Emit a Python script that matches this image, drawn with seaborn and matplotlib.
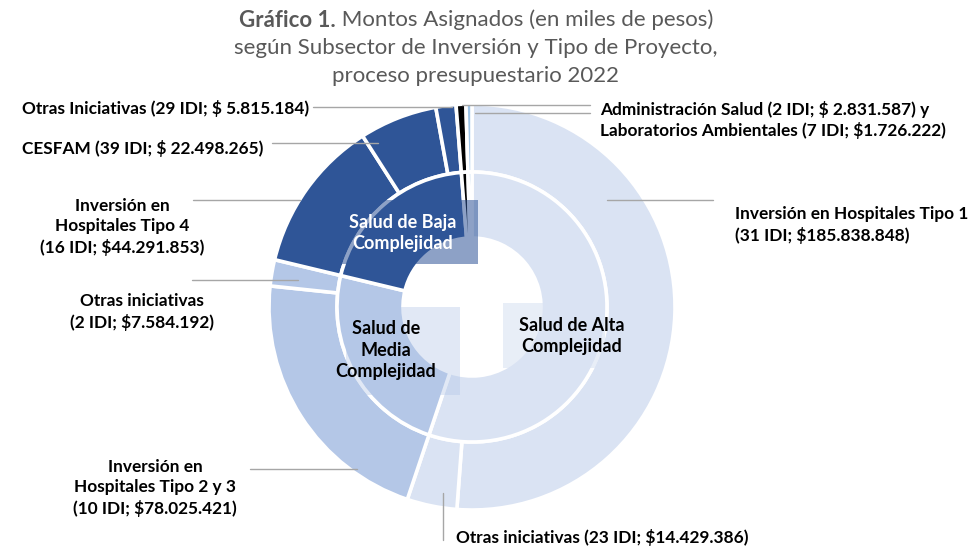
import matplotlib
matplotlib.use("Agg")
import matplotlib.pyplot as plt
import seaborn as sns
from matplotlib.patches import Rectangle

# Montos asignados (miles de pesos), proceso presupuestario 2022
subsectores = ["Salud de Alta\nComplejidad", "Salud de\nMedia\nComplejidad",
               "Salud de Baja\nComplejidad", "Administración Salud",
               "Laboratorios Ambientales"]
proyectos = ["Inversión en Hospitales Tipo 1", "Otras iniciativas",
             "Inversión en Hospitales Tipo 2 y 3", "Otras iniciativas",
             "Inversión en Hospitales Tipo 4", "CESFAM", "Otras Iniciativas",
             "Administración Salud", "Laboratorios Ambientales"]
proyecto_subsector = [0, 0, 1, 1, 2, 2, 2, 3, 4]
montos = [185838848, 14429386, 78025421, 7584192, 44291853, 22498265,
          5815184, 2831587, 1726222]
idi = [31, 23, 10, 2, 16, 39, 29, 2, 7]

etiquetas = [
    "Inversión en Hospitales Tipo 1\n(31 IDI; $185.838.848)",
    "Otras iniciativas (23 IDI; $14.429.386)",
    "Inversión en\nHospitales Tipo 2 y 3\n(10 IDI; $78.025.421)",
    "Otras iniciativas\n(2 IDI; $7.584.192)",
    "Inversión en\nHospitales Tipo 4\n(16 IDI; $44.291.853)",
    "CESFAM (39 IDI; $ 22.498.265)",
    "Otras Iniciativas (29 IDI; $ 5.815.184)",
    "Administración Salud (2 IDI; $ 2.831.587) y\nLaboratorios Ambientales (7 IDI; $1.726.222)",
]

colores_sub = ["#DAE3F3", "#B4C7E7", "#2F5597", "#000000", "#9DC3E6"]

montos_sub = [sum(m for m, s in zip(montos, proyecto_subsector) if s == i)
              for i in range(len(subsectores))]

sns.set_theme(style="white")
plt.rcParams["font.family"] = ["Lato", "DejaVu Sans"]

W, H = 970, 546
fig = plt.figure(figsize=(W / 100, H / 100), dpi=100)
ax = fig.add_axes([0, 0, 1, 1])


def py(y):
    # pixel row (from top) to data y
    return H - y


cx, cy = 472, py(307)
r_out, r_mid, r_in = 203, 135, 69
edge = dict(edgecolor="white", linewidth=2.6)

ax.pie(montos, radius=r_out, center=(cx, cy), startangle=90, counterclock=False,
       colors=[colores_sub[s] for s in proyecto_subsector],
       wedgeprops=dict(width=r_out - r_mid, **edge))
ax.pie(montos_sub, radius=r_mid, center=(cx, cy), startangle=90, counterclock=False,
       colors=colores_sub, wedgeprops=dict(width=r_mid - r_in, **edge))

ax.set_xlim(0, W)
ax.set_ylim(0, H)
ax.set_aspect("equal")
ax.axis("off")

# semi-transparent text boxes of the inner labels
cajas = [((503, 303, 605, 368), colores_sub[0], 0.6),
         ((346, 307, 460, 395), colores_sub[1], 0.4),
         ((330, 200, 478, 264), colores_sub[2], 0.55)]
for (x0, y0, x1, y1), c, a in cajas:
    ax.add_patch(Rectangle((x0, py(y1)), x1 - x0, y1 - y0, facecolor=c,
                           alpha=a, edgecolor="none", zorder=3))

txt_in = dict(fontsize=13, fontweight="bold", zorder=4, linespacing=1.3)
ax.text(572, py(336), subsectores[0], ha="center", va="center", color="black", **txt_in)
ax.text(386, py(350), subsectores[1], ha="center", va="center", color="black", **txt_in)
ax.text(403, py(233), subsectores[2], ha="center", va="center", color="white", **txt_in)

# outer labels and leader lines
gris = "#A6A6A6"
lineas = [((607, 200), (713, 200)), ((443, 493), (443, 540)),
          ((250, 469), (357, 469)), ((192, 280), (298, 280)),
          ((193, 200), (300, 200)), ((272, 143), (378, 143)),
          ((313, 107), (452, 107)), ((462, 105), (590, 105)),
          ((475, 113), (590, 113))]
for (x0, y0), (x1, y1) in lineas:
    ax.plot([x0, x1], [py(y0), py(y1)], color=gris, lw=1, zorder=5)

txt = dict(fontsize=12.4, fontweight="bold", zorder=4, linespacing=1.3)
pos = [(735, 225, "left"), (456, 538, "left"), (155, 488, "center"),
       (142, 312, "center"), (122, 227, "center"), (22, 148, "left"),
       (22, 108, "left"), (600, 120, "left")]
for lab, (x, y, ha) in zip(etiquetas, pos):
    ax.text(x, py(y), lab, ha=ha, va="center", multialignment=ha,
            color="black", **txt)

# title, first words in bold
tcol = "#595959"
tfs = 16
fig.canvas.draw()
r = fig.canvas.get_renderer()
t1 = ax.text(0, py(20), "Gráfico 1.", fontsize=tfs, fontweight="bold",
             color=tcol, va="center", ha="left")
t2 = ax.text(0, py(20), " Montos Asignados (en miles de pesos)", fontsize=tfs,
             color=tcol, va="center", ha="left")
w1 = t1.get_window_extent(r).width
w2 = t2.get_window_extent(r).width
x0 = 476 - (w1 + w2) / 2
t1.set_x(x0)
t2.set_x(x0 + w1)
ax.text(476, py(48), "según Subsector de Inversión y Tipo de Proyecto,",
        fontsize=tfs, color=tcol, ha="center", va="center")
ax.text(476, py(76), "proceso presupuestario 2022", fontsize=tfs, color=tcol,
        ha="center", va="center")

fig.savefig("out.png", dpi=100)
